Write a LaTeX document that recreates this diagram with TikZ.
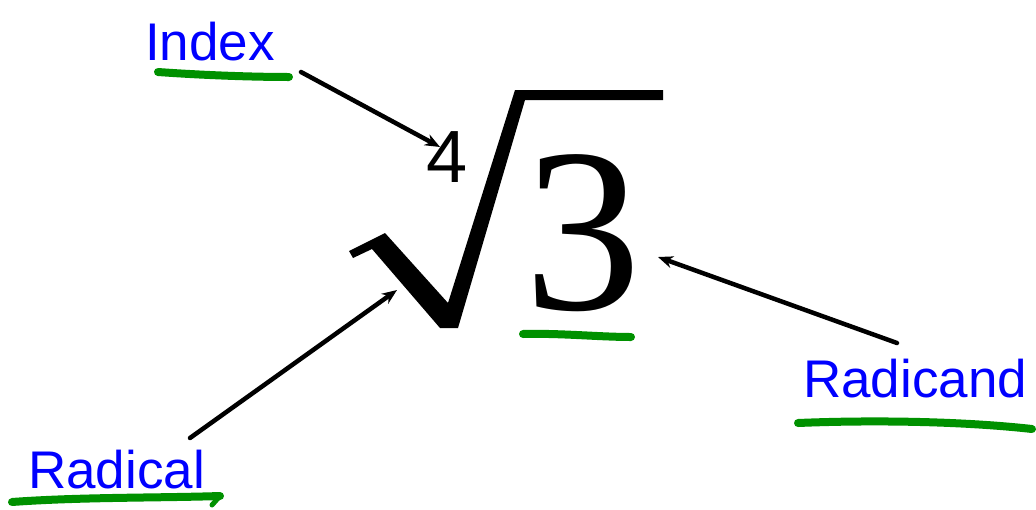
\documentclass[tikz,border=0pt]{standalone}
\usepackage{fontspec}
\setmainfont{Liberation Sans}
\newfontfamily\timesfont{Liberation Serif}
\usepackage{xcolor}
\usetikzlibrary{arrows.meta}
\definecolor{penblue}{RGB}{0,0,255}
\definecolor{pengreen}{RGB}{0,145,0}
\tikzset{
  label/.style={text=penblue, inner sep=0pt, anchor=base west, font=\fontsize{53}{53}\selectfont},
  pointer/.style={line width=4.5pt, line cap=round, -{Stealth[length=15pt, width=12pt]}},
  marker/.style={pengreen, line width=8pt, line cap=round}
}

\begin{document}
\begin{tikzpicture}[x=1pt, y=-1pt]
        \useasboundingbox (0,0) rectangle (1036,509);

        % Labels
        \node[label] (index) at (145,60) {Index};
        \node[label] (radicand) at (803,397) {Radicand};
        \node[label] (radical) at (28,488) {Radical};

        % Index and radicand
        \node[inner sep=0pt, anchor=base west, font=\fontsize{74}{74}\selectfont] (four) at (426,182) {4};
        \node[inner sep=0pt, anchor=base west, font=\timesfont\fontsize{234}{234}\selectfont] (three) at (524,309) {3};

        % Radical sign
        \coordinate (R1) at (349,251);  % tip
        \coordinate (R2) at (385,233);  % hook top
        \coordinate (R3) at (448,303);  % joint
        \coordinate (R4) at (515,90);   % top left
        \coordinate (R5) at (663,90);   % bar end
        \coordinate (R6) at (663,100);
        \coordinate (R7) at (525,100);
        \coordinate (R8) at (458,328);  % bottom right
        \coordinate (R9) at (440,328);  % bottom left
        \coordinate (R10) at (372,249);
        \coordinate (R11) at (353,258);
        \fill[black] (R1) -- (R2) -- (R3) -- (R4) -- (R5) -- (R6) -- (R7) -- (R8) -- (R9) -- (R10) -- (R11) -- cycle;

        % Arrow ends
        \coordinate (indexfoot) at (301,72);
        \coordinate (indextip) at (440,147);
        \coordinate (radicalfoot) at (190,438);
        \coordinate (radicaltip) at (397,290);
        \coordinate (radicandfoot) at (897,343);
        \coordinate (radicandtip) at (658,257);

        % Arrows
        \draw[pointer] (indexfoot) -- (indextip);
        \draw[pointer] (radicalfoot) -- (radicaltip);
        \draw[pointer] (radicandfoot) -- (radicandtip);

        % Green underlines
        \draw[marker] (158,72) .. controls (200,75) and (250,77) .. (289,77);
        \draw[marker] (523,334) .. controls (560,333) and (600,337) .. (631,337);
        \draw[marker] (798,423) .. controls (870,420) and (960,421) .. (1032,429);
        \draw[marker] (12,502) .. controls (80,497) and (160,498) .. (220,496);
        \draw[marker, line width=5pt] (220,496) -- (212,505);

    \end{tikzpicture}
\end{document}
